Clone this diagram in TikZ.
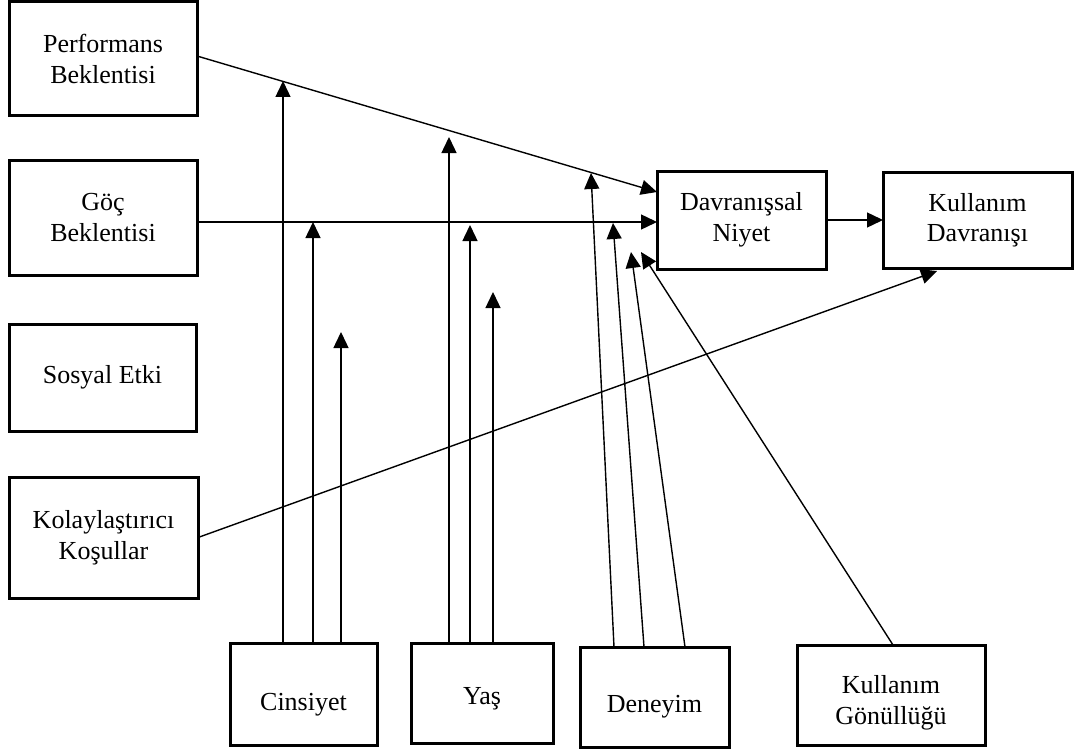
\documentclass[tikz,border=0pt]{standalone}
\usepackage{fontspec}
\setmainfont{Liberation Serif}
\usetikzlibrary{arrows.meta}
\newcommand{\lowtext}[2]{\raisebox{-#1}[\height][\depth]{\begin{tabular}{@{}c@{}}#2\end{tabular}}}
\begin{document}
\begin{tikzpicture}[x=1pt,y=-1pt,
  box/.style={draw,line width=3pt,rectangle,inner sep=0pt,outer sep=0pt,align=center,
    font=\fontsize{26}{30.5}\selectfont},
  arr/.style={line width=1.4pt,-{Triangle[length=16pt,width=15pt]}}]
\useasboundingbox (0,0) rectangle (1075,749);
% boxes
\node[box,minimum width=188pt,minimum height=114pt] (perf) at (103,59) {Performans\\Beklentisi};
\node[box,minimum width=188pt,minimum height=115pt] (goc) at (103,217.5) {Göç\\Beklentisi};
\node[box,minimum width=187pt,minimum height=107pt] (sos) at (102.5,377.5) {Sosyal Etki};
\node[box,minimum width=189pt,minimum height=121pt] (kol) at (103.5,537.5) {Kolaylaştırıcı\\Koşullar};
\node[box,minimum width=169pt,minimum height=98pt] (niyet) at (741.5,220) {Davranışsal\\Niyet};
\node[box,minimum width=189pt,minimum height=96pt] (kdav) at (977.5,220) {Kullanım\\Davranışı};
\node[box,minimum width=147pt,minimum height=102pt] (cins) at (303.5,694) {\lowtext{10pt}{Cinsiyet}};
\node[box,minimum width=142pt,minimum height=100pt] (yas) at (482,693) {\lowtext{5pt}{Yaş}};
\node[box,minimum width=149pt,minimum height=100pt] (den) at (654.5,697) {\lowtext{9pt}{Deneyim}};
\node[box,minimum width=188pt,minimum height=100pt] (gon) at (891,695) {\lowtext{8pt}{Kullanım\\Gönüllüğü}};
% coordinates
\coordinate (pe) at (197,56);
\coordinate (nt1) at (657,192);
\coordinate (gy) at (0,222);
\coordinate (kt) at (937,271);
\coordinate (c1) at (283,81);
\coordinate (c2) at (313,222);
\coordinate (c3) at (341,332);
\coordinate (y1) at (449,137);
\coordinate (y2) at (470,225);
\coordinate (y3) at (493,292);
\coordinate (d1s) at (614,0);
\coordinate (d2s) at (644,0);
\coordinate (d3s) at (685,0);
\coordinate (d1) at (591,173);
\coordinate (d2) at (613,223);
\coordinate (d3) at (631,252);
\coordinate (g1s) at (893,0);
\coordinate (g1) at (641,252);
% main connectors
\draw[arr] (perf.east |- pe) -- (nt1);
\draw[arr] (goc.east |- gy) -- (niyet.west |- gy);
\draw[arr] (niyet.east) -- (kdav.west);
\draw[arr] (kol.east) -- (kt);
% moderators
\draw[arr] (cins.north -| c1) -- (c1);
\draw[arr] (cins.north -| c2) -- (c2);
\draw[arr] (cins.north -| c3) -- (c3);
\draw[arr] (yas.north -| y1) -- (y1);
\draw[arr] (yas.north -| y2) -- (y2);
\draw[arr] (yas.north -| y3) -- (y3);
\draw[arr] (den.north -| d1s) -- (d1);
\draw[arr] (den.north -| d2s) -- (d2);
\draw[arr] (den.north -| d3s) -- (d3);
\draw[arr] (gon.north -| g1s) -- (g1);
\end{tikzpicture}
\end{document}
